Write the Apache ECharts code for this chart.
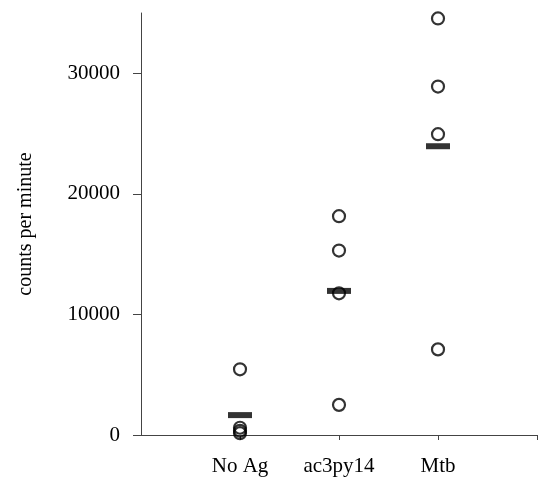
<!DOCTYPE html>
<html>
<head>
<meta charset="utf-8">
<script src="https://cdn.jsdelivr.net/npm/echarts@6/dist/echarts.min.js"></script>
<style>
  html, body { margin: 0; padding: 0; background: #fff; }
  #chart { width: 540px; height: 482px; }
</style>
</head>
<body>
<div id="chart"></div>
<script>
// groups on the x axis
const categories = ['No Ag', 'ac3py14', 'Mtb']
// individual counts per group
const noAg = [5450, 600, 350, 150]
const ac3py14 = [18150, 15300, 11750, 2500]
const mtb = [34550, 28900, 24950, 7100]
// group means (black bars)
const means = [1650, 11950, 23950]
const yTicks = [0, 10000, 20000, 30000]

const groups = [noAg, ac3py14, mtb]
const pointData = []
groups.forEach((vals, i) => {
  vals.forEach(v => pointData.push([i + 1, v]))
})
const meanData = means.map((v, i) => [i + 1, v])

const chart = echarts.init(document.getElementById('chart'))
const font = '"Liberation Serif", "DejaVu Serif", serif'

chart.setOption({
  animation: false,
  grid: { left: 141, right: 3, top: 13, bottom: 47, outerBoundsMode: 'none', containLabel: false },
  xAxis: {
    type: 'value',
    min: 0,
    max: 4,
    interval: 1,
    splitLine: { show: false },
    axisLine: { lineStyle: { color: '#444', width: 1 } },
    axisTick: { length: 5, customValues: [1, 2, 3, 4], lineStyle: { color: '#444' } },
    axisLabel: {
      customValues: [1, 2, 3],
      formatter: v => categories[v - 1] || '',
      color: '#000',
      fontFamily: font,
      fontSize: 21,
      margin: 21
    }
  },
  yAxis: {
    type: 'value',
    min: 0,
    max: 35000,
    interval: 10000,
    name: 'counts per minute',
    nameLocation: 'middle',
    nameGap: 105,
    nameTextStyle: { color: '#000', fontFamily: font, fontSize: 20 },
    splitLine: { show: false },
    axisLine: { show: true, lineStyle: { color: '#444', width: 1 } },
    axisTick: { show: true, length: 8, customValues: yTicks, lineStyle: { color: '#444' } },
    axisLabel: {
      customValues: yTicks,
      formatter: v => String(v),
      color: '#000',
      fontFamily: font,
      fontSize: 21,
      margin: 21
    }
  },
  series: [
    {
      type: 'scatter',
      data: meanData,
      symbol: 'rect',
      symbolSize: [24, 6],
      itemStyle: { color: '#000' },
      z: 3
    },
    {
      type: 'scatter',
      data: pointData,
      symbol: 'circle',
      symbolSize: 12,
      itemStyle: { color: 'rgba(255,255,255,0)', borderColor: '#000', borderWidth: 2.2 },
      z: 4
    }
  ]
})
</script>
</body>
</html>
